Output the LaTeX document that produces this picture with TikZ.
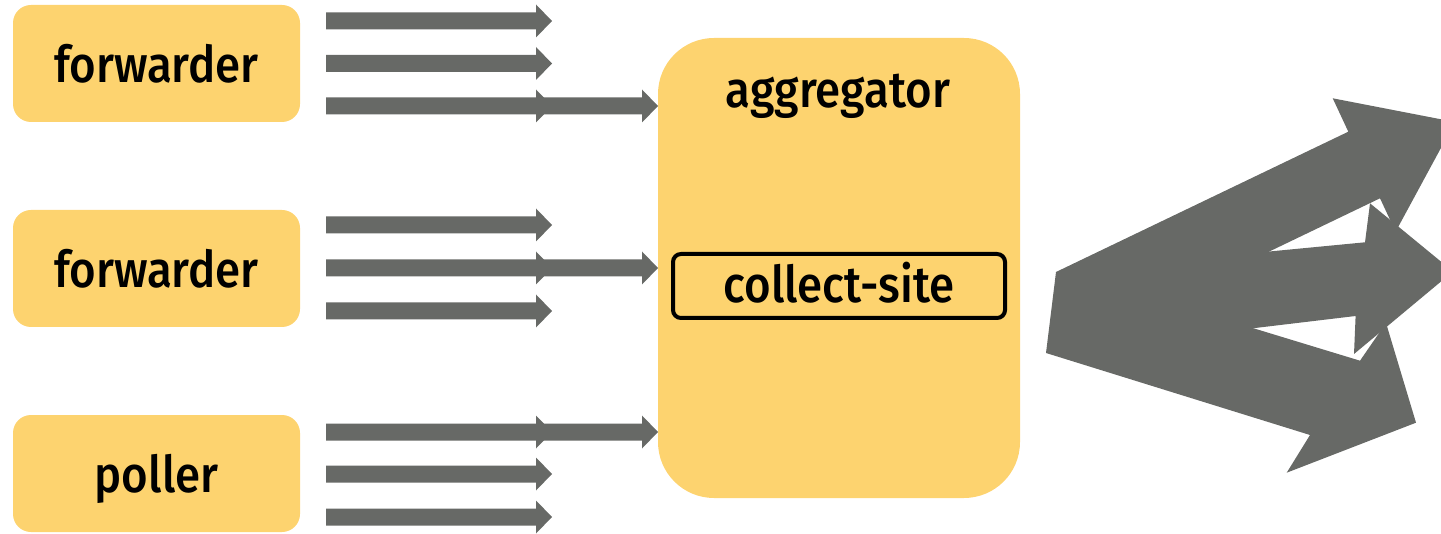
\documentclass[tikz,border=0pt]{standalone}
\usepackage{fontspec}
\setmainfont{Fira Sans}[BoldFont={Fira Sans Medium}, FakeStretch=0.9, BoldFeatures={FakeStretch=0.9}]
\definecolor{boxyellow}{RGB}{253,211,111}
\definecolor{arrowgrey}{RGB}{103,105,102}
\newcommand\blockarrow[3]{%
  \fill[arrowgrey] (#1,{#3-8.5}) -- ({#2-16},{#3-8.5}) -- ({#2-16},{#3-16.5}) -- (#2,#3)
    -- ({#2-16},{#3+16.5}) -- ({#2-16},{#3+8.5}) -- (#1,{#3+8.5}) -- cycle;}
\begin{document}
\begin{tikzpicture}[x=0.75pt,y=-0.75pt,
  lbl/.style={font=\fontsize{38}{40}\selectfont\bfseries, inner sep=0pt},
  srcbox/.style={lbl, fill=boxyellow, rounded corners=13.5pt, minimum width=215.25pt,
     minimum height=87.75pt, text height=28.5pt, text depth=0pt},
  aggbox/.style={fill=boxyellow, rounded corners=42pt, minimum width=271.5pt,
     minimum height=345pt, inner sep=0pt},
  sitebox/.style={lbl, draw=black, line width=3pt, rounded corners=6pt, minimum width=249pt,
     minimum height=48pt, text height=25.5pt, text depth=0pt}]
\useasboundingbox (0,0) rectangle (1441,534);
\clip (0,0) rectangle (1441,534);
% source boxes
\node[srcbox] (fw1) at (156.5,63.5) {forwarder};
\node[srcbox] (fw2) at (156.5,268.5) {forwarder};
\node[srcbox] (pol) at (156.5,473.5) {poller};
% aggregator
\node[aggbox] (agg) at (839,268) {};
\node[lbl, anchor=base] (aggtext) at (838,108) {aggregator};
\node[sitebox] (site) at (839,286) {collect-site};
% left arrows
\blockarrow{326}{552}{21}
\blockarrow{326}{552}{63.5}
\blockarrow{326}{552}{106}
\blockarrow{536}{658}{106}
\blockarrow{326}{552}{225}
\blockarrow{326}{552}{268}
\blockarrow{326}{552}{311}
\blockarrow{536}{658}{268}
\blockarrow{326}{552}{432}
\blockarrow{326}{552}{474}
\blockarrow{326}{552}{517}
\blockarrow{536}{658}{432}
% right output arrows
\fill[arrowgrey] (1056,272) -- (1348.3,131.7) -- (1332.7,98.3) -- (1455,122)
  -- (1395.6,231.7) -- (1380,198.3) -- (1087.3,339) -- cycle;
\fill[arrowgrey] (1056,272) -- (1365,242.3) -- (1370,203.3) -- (1453,271.5)
  -- (1354,354) -- (1355.6,316) -- (1046,353) -- cycle;
\fill[arrowgrey] (1072,273) -- (1360,360.7) -- (1386,323) -- (1416,422.7)
  -- (1286.7,472.7) -- (1310,435) -- (1046,353) -- cycle;
\end{tikzpicture}
\end{document}
